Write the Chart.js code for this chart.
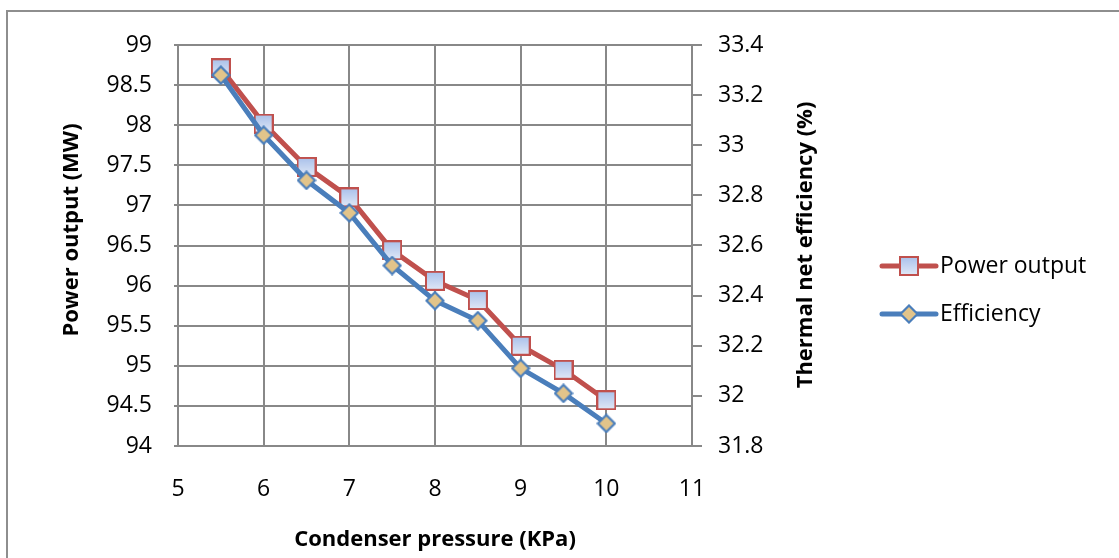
<!DOCTYPE html>
<html>
<head>
<meta charset="utf-8">
<script src="https://cdn.jsdelivr.net/npm/chart.js@4/dist/chart.umd.min.js"></script>
<style>
  html, body { margin: 0; padding: 0; background: #fff; }
  #wrap { width: 1119px; height: 558px; position: relative; }
</style>
</head>
<body>
<div id="wrap"><canvas id="chart" width="1119" height="558"></canvas></div>
<script>
// Chart data
const pressure = [5.5, 6, 6.5, 7, 7.5, 8, 8.5, 9, 9.5, 10];
const powerOutput = [98.71, 98.02, 97.48, 97.10, 96.44, 96.06, 95.82, 95.25, 94.95, 94.57];
const efficiency = [33.28, 33.04, 32.86, 32.73, 32.52, 32.38, 32.30, 32.11, 32.01, 31.89];

// Tick labels
const xTicks = [5, 6, 7, 8, 9, 10, 11];
const powerTicks = [94, 94.5, 95, 95.5, 96, 96.5, 97, 97.5, 98, 98.5, 99];
const effTicks = [31.8, 32, 32.2, 32.4, 32.6, 32.8, 33, 33.2, 33.4];

const RED = '#C0504D';
const BLUE = '#4A7EBB';
const GRID = '#888888';
const FONT = "'Open Sans', sans-serif";

// Marker images (square with gradient, diamond)
function makeSquare() {
  const c = document.createElement('canvas');
  c.width = 20; c.height = 20;
  const g = c.getContext('2d');
  const grad = g.createLinearGradient(0, 0, 0, 20);
  grad.addColorStop(0, '#a7bfea');
  grad.addColorStop(1, '#e3eaf7');
  g.fillStyle = grad;
  g.fillRect(1, 1, 18, 18);
  g.strokeStyle = RED;
  g.lineWidth = 2;
  g.strokeRect(1, 1, 18, 18);
  return c;
}

function makeDiamond() {
  const c = document.createElement('canvas');
  c.width = 20; c.height = 20;
  const g = c.getContext('2d');
  g.beginPath();
  g.moveTo(10, 1.5); g.lineTo(18.5, 10); g.lineTo(10, 18.5); g.lineTo(1.5, 10);
  g.closePath();
  g.fillStyle = '#e2c48a';
  g.fill();
  g.strokeStyle = BLUE;
  g.lineWidth = 2.2;
  g.stroke();
  return c;
}

const squareImg = makeSquare();
const diamondImg = makeDiamond();

function fixedTicks(list) {
  return scale => { scale.ticks = list.map(v => ({ value: v })); };
}

// Titles, legend and outer frame
const decorations = {
  id: 'decorations',
  afterDraw(chart) {
    const ctx = chart.ctx;
    ctx.save();

    // frame
    ctx.strokeStyle = '#8e8e8e';
    ctx.lineWidth = 2;
    ctx.strokeRect(7, 11, 1130, 600);

    // axis titles
    ctx.fillStyle = '#000';
    ctx.font = "bold 22px " + FONT;
    ctx.textAlign = 'center';
    ctx.textBaseline = 'middle';
    ctx.fillText('Condenser pressure (KPa)', 435, 540);

    ctx.save();
    ctx.translate(72, 230);
    ctx.rotate(-Math.PI / 2);
    ctx.fillText('Power output (MW)', 0, 0);
    ctx.restore();

    ctx.save();
    ctx.translate(806, 245);
    ctx.rotate(-Math.PI / 2);
    ctx.fillText('Thermal net efficiency (%)', 0, 0);
    ctx.restore();

    // legend
    const items = [
      { label: chart.data.datasets[1].label, color: RED, img: squareImg, y: 266 },
      { label: chart.data.datasets[0].label, color: BLUE, img: diamondImg, y: 314 }
    ];
    ctx.font = "23px " + FONT;
    ctx.textAlign = 'left';
    items.forEach(it => {
      ctx.strokeStyle = it.color;
      ctx.lineWidth = 5;
      ctx.lineCap = 'round';
      ctx.beginPath();
      ctx.moveTo(882, it.y);
      ctx.lineTo(936, it.y);
      ctx.stroke();
      ctx.drawImage(it.img, 909 - 10, it.y - 10);
      ctx.fillStyle = '#000';
      ctx.fillText(it.label, 940, it.y);
    });

    ctx.restore();
  }
};

new Chart(document.getElementById('chart'), {
  type: 'line',
  data: {
    datasets: [
      {
        label: 'Efficiency',
        data: pressure.map((p, i) => ({ x: p, y: efficiency[i] })),
        yAxisID: 'y1',
        borderColor: BLUE,
        borderWidth: 5,
        pointStyle: diamondImg,
        pointRadius: 10,
        order: 0
      },
      {
        label: 'Power output',
        data: pressure.map((p, i) => ({ x: p, y: powerOutput[i] })),
        yAxisID: 'y',
        borderColor: RED,
        borderWidth: 5,
        pointStyle: squareImg,
        pointRadius: 10,
        order: 1
      }
    ]
  },
  options: {
    responsive: false,
    animation: false,
    layout: { padding: { top: 45, left: 0, right: 0, bottom: 0 } },
    plugins: {
      legend: { display: false },
      tooltip: { enabled: false }
    },
    scales: {
      x: {
        type: 'linear',
        min: 5,
        max: 11,
        afterBuildTicks: fixedTicks(xTicks),
        afterFit: s => { s.height = 112; },
        grid: { color: GRID, lineWidth: 2, drawTicks: false },
        border: { color: GRID, width: 2 },
        ticks: {
          padding: 30,
          color: '#000',
          font: { family: FONT, size: 23 },
          callback: v => String(v)
        }
      },
      y: {
        position: 'left',
        min: 94,
        max: 99,
        afterBuildTicks: fixedTicks(powerTicks),
        afterFit: s => { s.width = 178; },
        grid: { color: GRID, lineWidth: 2, tickLength: 4 },
        border: { color: GRID, width: 2 },
        ticks: {
          padding: 22,
          color: '#000',
          font: { family: FONT, size: 23 },
          callback: v => String(v)
        }
      },
      y1: {
        position: 'right',
        min: 31.8,
        max: 33.4,
        afterBuildTicks: fixedTicks(effTicks),
        afterFit: s => { s.width = 427; },
        grid: { drawOnChartArea: false, color: GRID, lineWidth: 2, tickLength: 10 },
        border: { color: GRID, width: 2 },
        ticks: {
          padding: 16,
          color: '#000',
          font: { family: FONT, size: 23 },
          callback: v => String(Math.round(v * 10) / 10)
        }
      }
    }
  },
  plugins: [decorations]
});
</script>
</body>
</html>
